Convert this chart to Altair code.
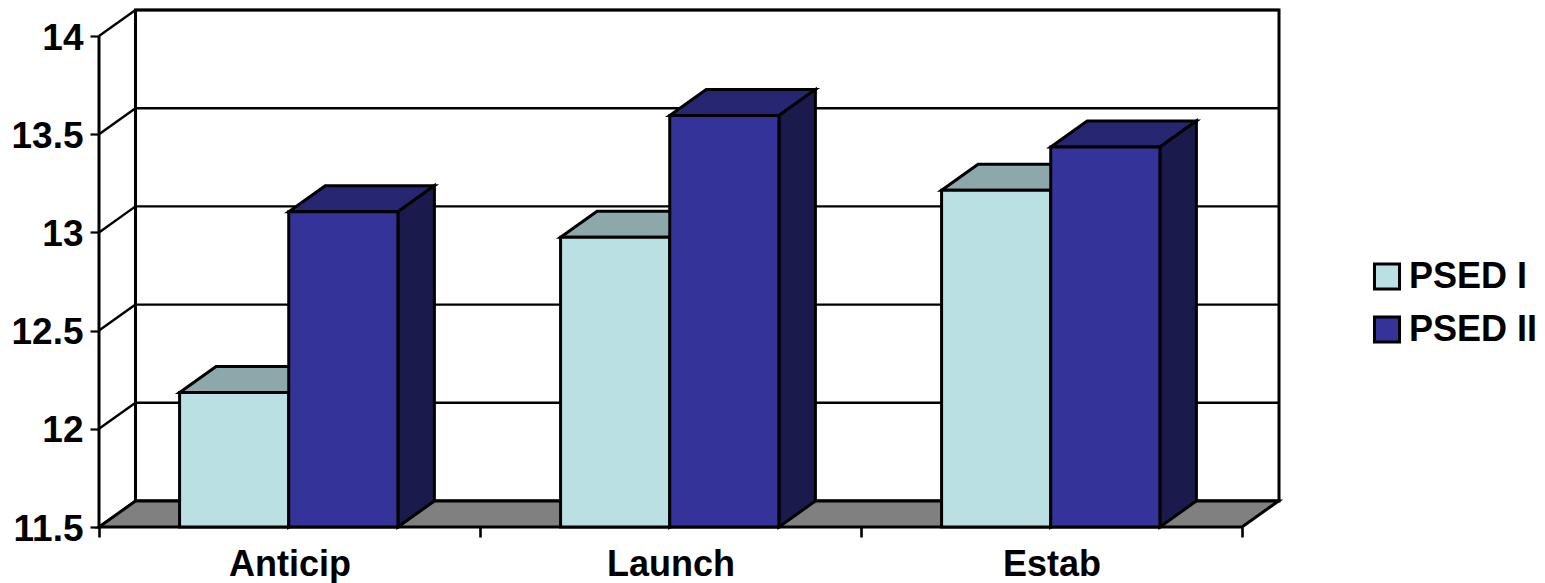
import altair as alt
import pandas as pd

categories = ["Anticip", "Launch", "Estab"]
series = ["PSED I", "PSED II"]
psed1 = [12.185, 12.975, 13.215]
psed2 = [13.105, 13.595, 13.435]
y_ticks = [11.5, 12, 12.5, 13, 13.5, 14]
front_colors = ["#BBE0E3", "#333399"]
top_colors = ["#8CA8AA", "#262673"]
side_colors = ["#5E7072", "#1A1A4D"]
floor_color = "#808080"

BASE = 11.5
DX = 0.0958      # depth, in category units
DY = 0.1324      # depth, in value units
GAP = 0.2115
BAR = 0.2865
XMAX = 1180 / 381
YMAX = BASE + 517 / 196.4
SW = 3

xs = alt.Scale(domain=[0, XMAX], nice=False, zero=False)
ys = alt.Scale(domain=[BASE, YMAX], nice=False, zero=False)

n = len(categories)
x_ticks = []
names = {}
for i in range(n):
    x_ticks += [i, i + 0.5]
    names[i + 0.5] = categories[i]
x_ticks.append(n)
label_expr = "".join(f"datum.value == {k} ? '{v}' : " for k, v in names.items()) + "''"

FONT = "Liberation Sans"
x_axis = alt.Axis(values=x_ticks, labelExpr=label_expr, title=None, domain=False, grid=False,
                  tickColor="black", tickWidth=2.6, tickSize=10,
                  tickOpacity={"condition": {"test": "datum.value % 1 == 0", "value": 1}, "value": 0},
                  labelFont=FONT, labelFontWeight="bold", labelFontSize=36, labelColor="black",
                  labelPadding=10, labelOverlap=False, labelFlush=False, labelBound=False)
y_axis = alt.Axis(values=y_ticks, format="~g", title=None, domain=False, grid=False,
                  tickColor="black", tickWidth=2.2, tickSize=9,
                  labelFont=FONT, labelFontWeight="bold", labelFontSize=37, labelColor="black",
                  labelPadding=7, labelOffset=2, labelOverlap=False, labelFlush=False, labelBound=False)


def X(f):
    return alt.X(f, type="quantitative", scale=xs, axis=x_axis)


def Y(f):
    return alt.Y(f, type="quantitative", scale=ys, axis=y_axis)


# walls and floor
wall = pd.DataFrame({"x": [DX], "x2": [XMAX], "y": [BASE + DY], "y2": [YMAX]})
wall_l = alt.Chart(wall).mark_rect(fill="white", stroke="black", strokeWidth=SW).encode(
    x=X("x"), x2="x2", y=Y("y"), y2="y2")

grid = pd.DataFrame({"x": [DX] * len(y_ticks), "x2": [XMAX] * len(y_ticks), "y": [v + DY for v in y_ticks]})
grid_l = alt.Chart(grid).mark_rule(color="black", strokeWidth=2.4).encode(x=X("x"), x2="x2", y=Y("y"))

side_rows = []
for v in y_ticks:
    side_rows += [{"v": v, "x": 0, "y": v}, {"v": v, "x": DX, "y": v + DY}]
side_l = alt.Chart(pd.DataFrame(side_rows)).mark_line(color="black", strokeWidth=2.4).encode(
    x=X("x"), y=Y("y"), detail="v:N")

axis_line = pd.DataFrame({"x": [0.0], "y": [BASE], "y2": [y_ticks[-1]]})
axis_l = alt.Chart(axis_line).mark_rule(color="black", strokeWidth=SW).encode(x=X("x"), y=Y("y"), y2="y2")

floor = pd.DataFrame({"y": [BASE, BASE + DY], "x": [0, DX], "x2": [n, n + DX]})
floor_l = alt.Chart(floor).mark_area(orient="horizontal", fill=floor_color, stroke="black",
                                     strokeWidth=SW).encode(y=Y("y"), x=X("x"), x2="x2")

# bars
layers = [wall_l, grid_l, side_l, axis_l, floor_l]
for s, (name, vals) in enumerate(zip(series, [psed1, psed2])):
    tops, sides, fronts = [], [], []
    for i, (c, v) in enumerate(zip(categories, vals)):
        x0 = i + GAP + s * BAR
        x1 = x0 + BAR
        tops += [{"c": c, "y": v, "x": x0, "x2": x1},
                 {"c": c, "y": v + DY, "x": x0 + DX, "x2": x1 + DX}]
        sides += [{"c": c, "x": x1, "y": BASE, "y2": v},
                  {"c": c, "x": x1 + DX, "y": BASE + DY, "y2": v + DY}]
        fronts.append({"s": name, "x": x0, "x2": x1, "y": BASE, "y2": v})
    layers.append(alt.Chart(pd.DataFrame(tops)).mark_area(
        orient="horizontal", fill=top_colors[s], stroke="black", strokeWidth=SW).encode(
        y=Y("y"), x=X("x"), x2="x2", detail="c:N"))
    layers.append(alt.Chart(pd.DataFrame(sides)).mark_area(
        orient="vertical", fill=side_colors[s], stroke="black", strokeWidth=SW).encode(
        x=X("x"), y=Y("y"), y2="y2", detail="c:N"))
    layers.append(alt.Chart(pd.DataFrame(fronts)).mark_rect(stroke="black", strokeWidth=SW).encode(
        x=X("x"), x2="x2", y=Y("y"), y2="y2",
        color=alt.Color("s:N", scale=alt.Scale(domain=series, range=front_colors),
                        legend=alt.Legend(title=None, orient="none", legendX=1270, legendY=249,
                                          symbolType="square", symbolSize=625,
                                          symbolStrokeColor="black", symbolStrokeWidth=3,
                                          symbolOpacity=1,
                                          labelFont=FONT, labelFontWeight="bold", labelFontSize=36,
                                          labelColor="black", labelOffset=4, rowPadding=16,
                                          labelLimit=300, clipHeight=35))))

chart = alt.layer(*layers).properties(
    width=1180, height=517,
    padding={"left": 91, "top": 2, "right": 258, "bottom": 56},
    autosize=alt.AutoSizeParams(type="none"),
    background="white",
).configure_view(stroke=None)

chart.save("out.html", embed_options={"renderer": "svg", "actions": False})
